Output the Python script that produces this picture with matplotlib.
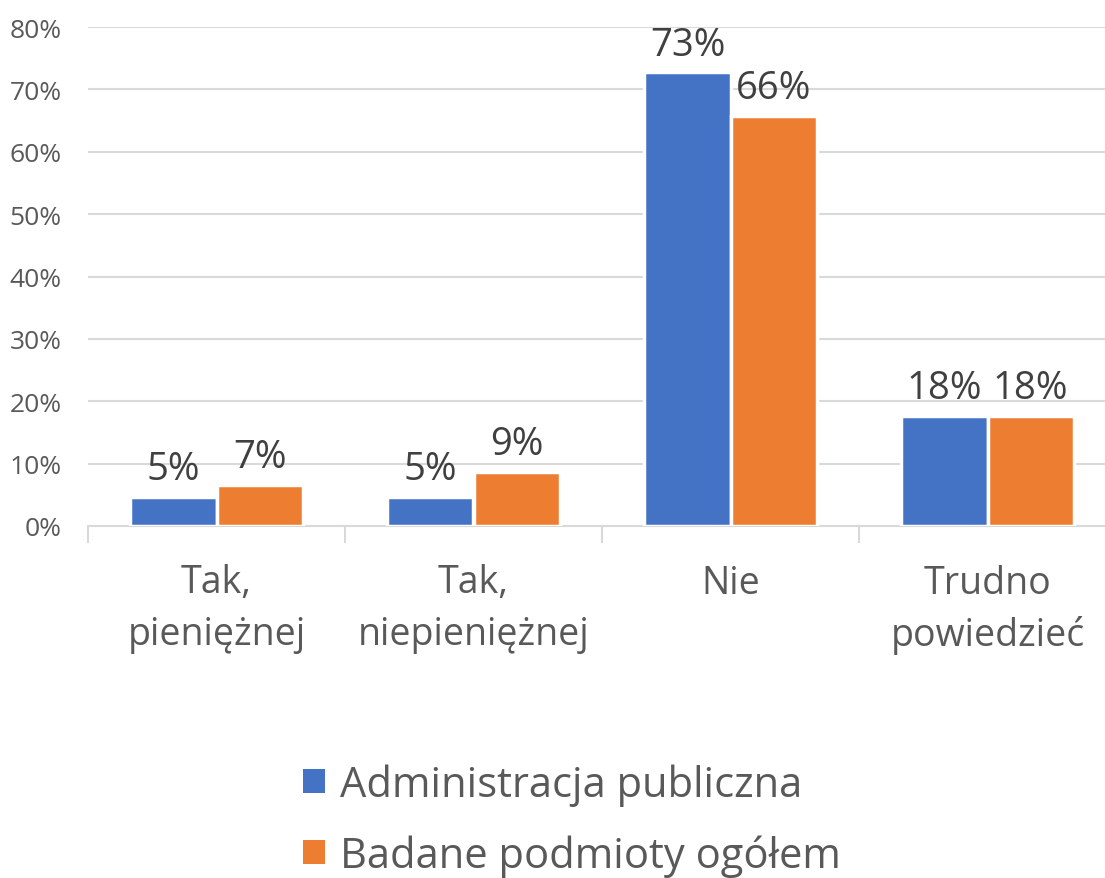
import numpy as np
import matplotlib.pyplot as plt
from matplotlib.patches import Patch

plt.rcParams['font.family'] = ['Open Sans', 'DejaVu Sans']

categories = ["Tak,\npieniężnej", "Tak,\nniepieniężnej", "Nie", "Trudno\npowiedzieć"]
series_names = ["Administracja publiczna", "Badane podmioty ogółem"]
admin = [0.047, 0.047, 0.728, 0.177]
ogolem = [0.066, 0.087, 0.658, 0.177]
admin_labels = ["5%", "5%", "73%", "18%"]
ogolem_labels = ["7%", "9%", "66%", "18%"]
yticks = [0, 0.1, 0.2, 0.3, 0.4, 0.5, 0.6, 0.7, 0.8]

blue = "#4472C4"
orange = "#ED7D31"

fig = plt.figure(figsize=(11.05, 8.79), dpi=100)
ax = fig.add_axes([88 / 1105, 1 - 527 / 879, 1028 / 1105, 499 / 879])

x = np.arange(len(categories))
w = 0.335
b1 = ax.bar(x - w / 2, admin, w, color=blue, edgecolor="white", linewidth=2.5, zorder=3)
b2 = ax.bar(x + w / 2, ogolem, w, color=orange, edgecolor="white", linewidth=2.5, zorder=3)

for bars, labels in ((b1, admin_labels), (b2, ogolem_labels)):
    for rect, lab in zip(bars, labels):
        ax.annotate(lab, (rect.get_x() + rect.get_width() / 2, rect.get_height()),
                    xytext=(0, 6), textcoords="offset points", ha="center", va="bottom",
                    fontsize=27.5, color="#404040")

ax.set_xlim(-0.5, 3.5)
ax.set_ylim(0, 0.8)
ax.set_yticks(yticks)
ax.set_yticklabels([f"{int(round(t * 100))}%" for t in yticks], fontsize=19, color="#595959")
ax.tick_params(axis="y", length=0, pad=19)
ax.yaxis.grid(True, color="#D9D9D9", linewidth=1.5, zorder=0)

ax.set_xticks(x)
ax.set_xticklabels(categories, fontsize=27, color="#595959", linespacing=1.45)
ax.tick_params(axis="x", which="major", length=0, pad=27)
ax.set_xticks(np.arange(-0.5, 4, 1), minor=True)
ax.tick_params(axis="x", which="minor", length=12, color="#D9D9D9", width=1.5)

for s in ("top", "right", "left"):
    ax.spines[s].set_visible(False)
ax.spines["bottom"].set_color("#D9D9D9")
ax.spines["bottom"].set_linewidth(1.5)

handles = [Patch(facecolor=blue), Patch(facecolor=orange)]
fig.legend(handles, series_names, loc="center", bbox_to_anchor=(0.518, 0.066),
           frameon=False, fontsize=30, labelcolor="#595959", handlelength=0.53,
           handleheight=0.53, handletextpad=0.36, labelspacing=0.68)

fig.savefig("out.png", dpi=100)
